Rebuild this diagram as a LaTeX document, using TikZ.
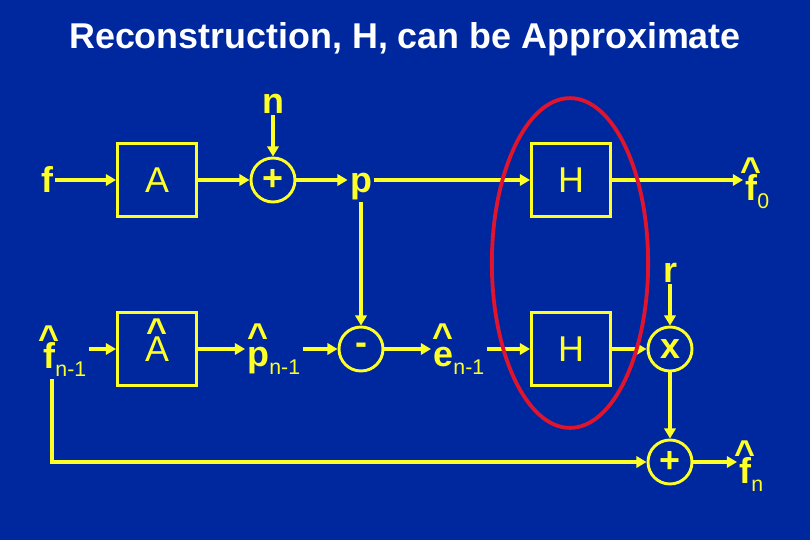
\documentclass[tikz,border=0pt]{standalone}
\usepackage{fontspec}
\setmainfont{Liberation Sans}
\usetikzlibrary{arrows.meta,shapes}

\definecolor{slideblue}{RGB}{0,40,158}
\definecolor{slideyellow}{RGB}{255,255,40}
\definecolor{slidered}{RGB}{225,20,45}

% letter with a caret above it
\newcommand{\hatted}[1]{\ooalign{#1\cr\hidewidth\raisebox{0.5em}{\bfseries\textasciicircum}\hidewidth\cr}}
\newcommand{\sub}[1]{{\fontsize{19}{19}\mdseries\selectfont\raisebox{-8pt}{#1}}}

\begin{document}
\begin{tikzpicture}[x=0.03136cm,y=-0.03136cm,
  blk/.style={draw=slideyellow,line width=2.6pt,minimum width=2.48cm,minimum height=2.29cm,inner sep=0pt,text=slideyellow,font=\fontsize{32}{32}\selectfont},
  sum/.style={circle,draw=slideyellow,line width=2.6pt,minimum size=1.38cm,inner sep=0pt,text=slideyellow,font=\fontsize{32}{32}\selectfont\bfseries},
  sig/.style={text=slideyellow,inner sep=2pt,font=\fontsize{32}{32}\selectfont\bfseries},
  wire/.style={draw=slideyellow,line width=3.2pt,-{Triangle[length=9pt,width=10pt]}}]

\fill[slideblue] (0,0) rectangle (810,540);

\node[text=white,font=\fontsize{32}{32}\selectfont\bfseries] (title) at (405,39) {Reconstruction, H, can be Approximate};

% top row
\node[sig,anchor=base] (f) at (47,192) {f};
\node[blk] (A) at (157,180) {A};
\node[sum] (plus) at (273,180) {+};
\node[sig,anchor=base] (n) at (273,113) {n};
\node[sig,anchor=base] (p) at (361,192) {p};
\node[blk] (H) at (571,180) {H};
\node[sig,anchor=base west] (fh0) at (743,200) {\hatted{f}\sub{0}};

\draw[wire] (f.east |- A) -- (A);
\draw[wire] (A) -- (plus);
\draw[wire] (n) -- (plus);
\draw[wire] (plus) -- (p.west |- plus);
\draw[wire] (p.east |- H) -- (H);
\draw[wire] (H) -- (fh0.west |- H);

% bottom row
\node[sig,anchor=base west] (fh1) at (41,368) {\hatted{f}\sub{n-1}};
\node[blk] (Ah) at (157,349) {\hatted{A}};
\node[sig,anchor=base west] (ph1) at (245,366) {\hatted{p}\sub{n-1}};
\node[sum] (minus) at (361,349) {-};
\node[sig,anchor=base west] (eh1) at (431,366) {\hatted{e}\sub{n-1}};
\node[blk] (H2) at (571,349) {H};
\node[sum] (times) at (670,349) {x};
\node[sig,anchor=base] (r) at (670,282) {r};
\node[sum] (plus2) at (670,462) {+};
\node[sig,anchor=base west] (fhn) at (737,483) {\hatted{f}\sub{n}};

\draw[wire] (fh1.east |- Ah) -- (Ah);
\draw[wire] (Ah) -- (ph1.west |- Ah);
\draw[wire] (ph1.east |- minus) -- (minus);
\draw[wire] (p.south) -- (minus);
\draw[wire] (minus) -- (eh1.west |- minus);
\draw[wire] (eh1.east |- H2) -- (H2);
\draw[wire] (H2) -- (times);
\draw[wire] (r) -- (times);
\draw[wire] (times) -- (plus2);
\draw[wire] ([xshift=0.34cm]fh1.south west) |- (plus2);
\draw[wire] (plus2) -- (fhn.west |- plus2);

% the approximated part
\draw[slidered,line width=3.4pt] (570,263) ellipse [x radius=2.45cm,y radius=5.17cm];

\end{tikzpicture}
\end{document}
